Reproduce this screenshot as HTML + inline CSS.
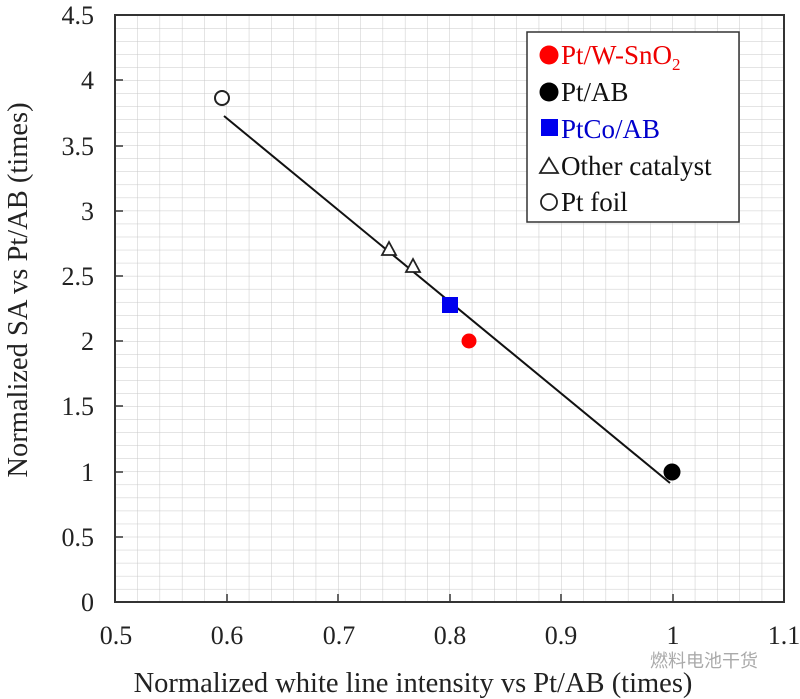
<!DOCTYPE html>
<html><head><meta charset="utf-8"><style>
body{margin:0;background:#fff;}
svg{display:block;}
svg text{font-family:"Liberation Serif","Times New Roman",serif;}
svg text.cjk{font-family:"Noto Sans CJK SC",sans-serif;}
</style></head><body>
<svg width="800" height="699" viewBox="0 0 800 699" xmlns="http://www.w3.org/2000/svg" font-family="Liberation Serif, serif">
<defs>
<pattern id="g" x="115" y="15" width="22.3" height="13.044" patternUnits="userSpaceOnUse">
<path d="M0 0 V13.044 M0 0 H22.3" stroke="#c8c8c8" stroke-width="1" fill="none"/>
</pattern>
</defs>
<rect x="115" y="15" width="669" height="587" fill="url(#g)"/>
<rect x="115" y="15" width="669" height="587" fill="none" stroke="#333" stroke-width="2"/>
<g stroke="#333" stroke-width="1.5">
<line x1="115" y1="80" x2="123" y2="80"/><line x1="115" y1="146" x2="123" y2="146"/>
<line x1="115" y1="211" x2="123" y2="211"/><line x1="115" y1="276" x2="123" y2="276"/>
<line x1="115" y1="341" x2="123" y2="341"/><line x1="115" y1="406" x2="123" y2="406"/>
<line x1="115" y1="472" x2="123" y2="472"/><line x1="115" y1="537" x2="123" y2="537"/>
<line x1="227" y1="602" x2="227" y2="594"/><line x1="338" y1="602" x2="338" y2="594"/>
<line x1="450" y1="602" x2="450" y2="594"/><line x1="561" y1="602" x2="561" y2="594"/>
<line x1="673" y1="602" x2="673" y2="594"/>
</g>
<g font-size="26" fill="#222" text-anchor="end">
<text x="94" y="24">4.5</text><text x="94" y="89">4</text><text x="94" y="155">3.5</text>
<text x="94" y="220">3</text><text x="94" y="285">2.5</text><text x="94" y="350">2</text>
<text x="94" y="415">1.5</text><text x="94" y="481">1</text><text x="94" y="546">0.5</text>
<text x="94" y="611">0</text>
</g>
<g font-size="26" fill="#222" text-anchor="middle">
<text x="116" y="644">0.5</text><text x="227" y="644">0.6</text><text x="339" y="644">0.7</text>
<text x="450" y="644">0.8</text><text x="561" y="644">0.9</text><text x="673" y="644">1</text>
<text x="784" y="644">1.1</text>
</g>
<text x="413" y="692" font-size="28.5" fill="#222" text-anchor="middle">Normalized white line intensity vs Pt/AB (times)</text>
<text transform="translate(27,290) rotate(-90)" font-size="28.5" fill="#222" text-anchor="middle">Normalized SA vs Pt/AB (times)</text>
<text class="cjk" x="758" y="667" font-size="18" fill="#aaa" text-anchor="end">燃料电池干货</text>
<line x1="224" y1="116" x2="670" y2="483" stroke="#111" stroke-width="2"/>
<circle cx="222" cy="98" r="7" fill="#fff" stroke="#222" stroke-width="2"/>
<polygon points="389,242 382,255 396,255" fill="#fff" stroke="#222" stroke-width="1.8"/>
<polygon points="413,259 406,272 420,272" fill="#fff" stroke="#222" stroke-width="1.8"/>
<rect x="442" y="297" width="16" height="16" fill="#0000ee"/>
<circle cx="469" cy="341" r="7.5" fill="#ff0000"/>
<circle cx="672" cy="472" r="8.5" fill="#000"/>
<rect x="527" y="32" width="212" height="190" fill="#fff" stroke="#333" stroke-width="1.5"/>
<circle cx="549" cy="55" r="9.5" fill="#f00"/>
<text x="561" y="64" font-size="27" fill="#e00">Pt/W-SnO<tspan font-size="17" dy="6">2</tspan></text>
<circle cx="549" cy="92" r="9.5" fill="#000"/>
<text x="561" y="101" font-size="27" fill="#111">Pt/AB</text>
<rect x="541" y="119" width="17" height="17" fill="#0000ee"/>
<text x="561" y="138" font-size="27" fill="#0000cc">PtCo/AB</text>
<polygon points="549,158 540,173 558,173" fill="#fff" stroke="#222" stroke-width="1.8"/>
<text x="561" y="175" font-size="27" fill="#111">Other catalyst</text>
<circle cx="549" cy="202" r="8" fill="#fff" stroke="#222" stroke-width="1.8"/>
<text x="561" y="211" font-size="27" fill="#111">Pt foil</text>
</svg>
</body></html>
